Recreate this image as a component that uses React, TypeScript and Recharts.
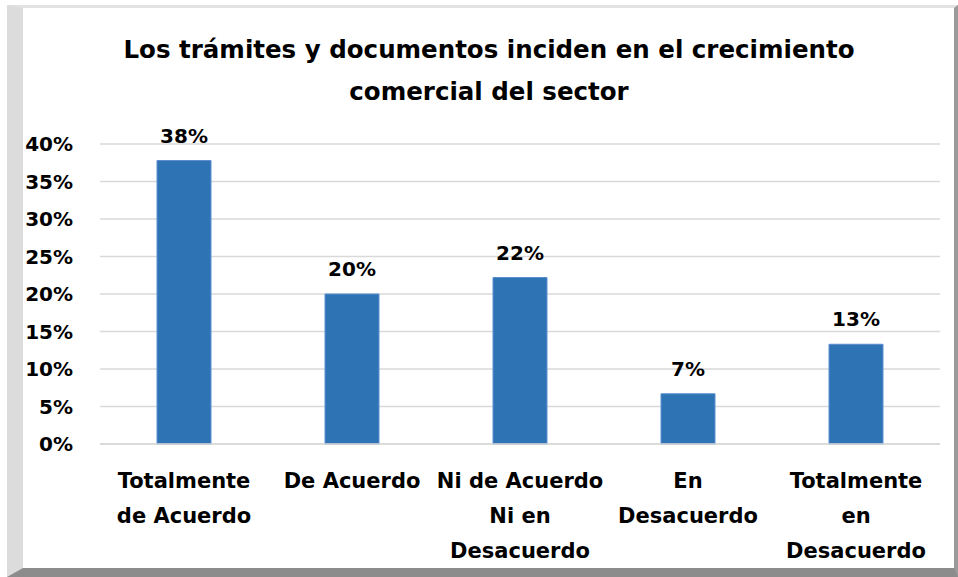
import React from "react";
import { BarChart, Bar, XAxis, YAxis, CartesianGrid, LabelList } from "recharts";

// Survey answers, share of respondents (%)
const categories = [
  "Totalmente de Acuerdo",
  "De Acuerdo",
  "Ni de Acuerdo Ni en Desacuerdo",
  "En Desacuerdo",
  "Totalmente en Desacuerdo",
];
const categoryLines = [
  ["Totalmente", "de Acuerdo"],
  ["De Acuerdo"],
  ["Ni de Acuerdo", "Ni en", "Desacuerdo"],
  ["En", "Desacuerdo"],
  ["Totalmente", "en", "Desacuerdo"],
];
const shares = [37.8, 20, 22.2, 6.7, 13.3];
const yTicks = [0, 5, 10, 15, 20, 25, 30, 35, 40];

const FONT = "'DejaVu Sans', sans-serif";

const data = categories.map((name, i) => ({ name, idx: i, value: shares[i] }));

function CategoryTick(props: any) {
  const { x, y, payload } = props;
  const lines = categoryLines[payload.index] ?? [payload.value];
  return (
    <g transform={`translate(${x},${y})`}>
      {lines.map((ln: string, i: number) => (
        <text
          key={i}
          x={0}
          y={36 + i * 35}
          textAnchor="middle"
          fill="#000"
          fontFamily={FONT}
          fontWeight={700}
          fontSize={21}
        >
          {ln}
        </text>
      ))}
    </g>
  );
}

export default function App() {
  return (
    <div
      style={{
        position: "absolute",
        left: 0,
        top: 0,
        width: 958,
        height: 577,
        background: "#fff",
        overflow: "hidden",
      }}
    >
      {/* bevelled frame */}
      <div
        style={{
          position: "absolute",
          left: 7,
          top: 5,
          width: 951,
          height: 572,
          boxSizing: "border-box",
          borderTop: "3px solid #e2e2e2",
          borderLeft: "16px solid #dcdcdc",
          borderRight: "4px solid #9a9a9a",
          borderBottom: "9px solid #8c8c8c",
        }}
      />
      <div
        style={{
          position: "absolute",
          left: 0,
          top: 29,
          width: 978,
          textAlign: "center",
          fontFamily: FONT,
          fontWeight: 700,
          fontSize: 24.5,
          lineHeight: "42px",
          color: "#000",
        }}
      >
        Los trámites y documentos inciden en el crecimiento
        <br />
        comercial del sector
      </div>
      <div style={{ position: "absolute", left: 0, top: 0 }}>
        <BarChart
          width={958}
          height={577}
          data={data}
          margin={{ top: 144, right: 18, bottom: 0, left: 0 }}
          barCategoryGap={57}
        >
          <CartesianGrid vertical={false} stroke="#d9d9d9" strokeWidth={1.5} />
          <XAxis
            dataKey="name"
            axisLine={{ stroke: "#d9d9d9", strokeWidth: 1.5 }}
            tickLine={false}
            interval={0}
            tick={<CategoryTick />}
            height={133}
          />
          <YAxis
            width={100}
            domain={[0, 40]}
            ticks={yTicks}
            interval={0}
            axisLine={false}
            tickLine={false}
            tickMargin={21}
            tickFormatter={(v: number) => `${v}%`}
            tick={{ fill: "#000", fontFamily: FONT, fontWeight: 700, fontSize: 20 }}
          />
          <Bar
            dataKey="value"
            fill="#2E74B5"
            stroke="#5B8FD0"
            strokeWidth={1}
            isAnimationActive={false}
          >
            <LabelList
              dataKey="value"
              position="top"
              offset={18}
              formatter={(v: any) => `${Math.round(Number(v))}%`}
              fill="#000"
              fontFamily={FONT}
              fontWeight={700}
              fontSize={20}
            />
          </Bar>
        </BarChart>
      </div>
    </div>
  );
}
